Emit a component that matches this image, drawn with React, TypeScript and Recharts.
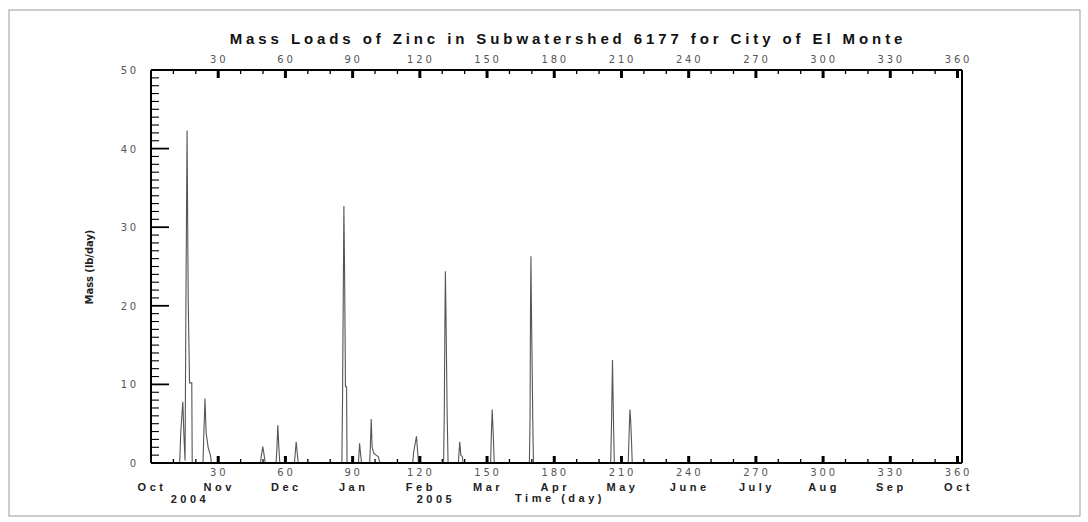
import React from 'react';
import { LineChart, Line, XAxis, YAxis } from 'recharts';

// spike outline points: day of water year (Oct 1 = 0) and mass in lb/day
const days = [
  0, 12.8, 13.3, 14.2, 14.7, 15.2, 15.6, 16.1, 16.6, 17.2, 18.2, 18.4,
  23.2, 23.6, 24.1, 24.6, 25.5, 26.5, 27,
  48.8, 49.4, 49.9, 50.5, 51,
  55.8, 56.2, 56.6, 57.1, 57.5,
  64, 64.4, 64.8, 65.3, 65.7,
  85.2, 85.5, 85.9, 86.1, 86.4, 86.8, 87.3, 87.5,
  92.6, 93.1, 93.6, 94,
  97.6, 97.9, 98.3, 98.7, 99.5, 100.5, 101.5, 102.2,
  116.8, 117.3, 118.5, 119, 119.4,
  130.6, 130.9, 131.2, 131.4, 131.7, 132.2, 132.6,
  137.2, 137.8, 138.3, 139, 139.3,
  151.6, 151.9, 152.3, 152.8, 153.2,
  168.9, 169.2, 169.4, 169.6, 169.8, 170.1, 170.4, 170.7,
  205.2, 205.6, 206, 206.4, 206.8,
  213, 213.3, 213.6, 213.8, 214.1, 214.5, 214.8,
  362,
];
const mass = [
  0, 0, 4, 7.8, 3.5, 0.3, 21, 42.3, 21, 10.2, 10.2, 0,
  0, 3.9, 8.2, 3.9, 2, 1, 0,
  0, 1.2, 2.1, 1, 0,
  0, 1.8, 4.8, 1.8, 0,
  0, 1.3, 2.7, 1.2, 0,
  0, 8.3, 24.6, 32.7, 24.6, 9.7, 9.7, 0,
  0, 2.5, 1, 0,
  0, 2, 5.6, 2, 1.2, 1, 0.8, 0,
  0, 1.5, 3.4, 1.5, 0,
  0, 6.1, 18.2, 24.4, 18.2, 6.1, 0,
  0, 2.7, 1, 0.8, 0,
  0, 3.4, 6.8, 3.4, 0,
  0, 5.8, 19.8, 26.3, 19.8, 12.9, 5.8, 0,
  0, 5.8, 13.1, 5.8, 0,
  0, 2.7, 5.4, 6.8, 5.4, 2.7, 0,
  0,
];

const xTicks = [
  0, 10, 20, 30, 40, 50, 60, 70, 80, 90, 100, 110, 120, 130, 140, 150, 160, 170, 180,
  190, 200, 210, 220, 230, 240, 250, 260, 270, 280, 290, 300, 310, 320, 330, 340, 350, 360,
];
const yTicks = Array.from({ length: 51 }, (_, i) => i);
const months = ['Oct', 'Nov', 'Dec', 'Jan', 'Feb', 'Mar', 'Apr', 'May', 'June', 'July', 'Aug', 'Sep', 'Oct'];

const data = days.map((d, i) => ({ day: d, mass: mass[i] }));

const W = 1088;
const H = 522;
const numFont = { fontFamily: 'DejaVu Sans, sans-serif', fontSize: 10, letterSpacing: 2.8, fill: '#555' };
const boldFont = { fontFamily: 'Liberation Sans, Arial, sans-serif', fontSize: 11, fontWeight: 700, letterSpacing: 3.5, fill: '#222' };

const BottomTick = (props: any) => {
  const { x, y, payload } = props;
  const v = payload.value;
  const major = v % 30 === 0;
  return (
    <g>
      {v > 0 && (
        <line x1={x} x2={x} y1={y} y2={y - (major ? 7 : 4)} stroke="#000" strokeWidth={major ? 3 : 1.3} />
      )}
      {major && v > 0 && (
        <text x={x + 1} y={y + 13} textAnchor="middle" {...numFont}>{v}</text>
      )}
      {major && (
        <text x={x + 1} y={y + 28} textAnchor="middle" {...boldFont}>{months[v / 30]}</text>
      )}
    </g>
  );
};

const TopTick = (props: any) => {
  const { x, y, payload } = props;
  const v = payload.value;
  const major = v % 30 === 0;
  return (
    <g>
      {v > 0 && (
        <line x1={x} x2={x} y1={y} y2={y + (major ? 8 : 4)} stroke="#000" strokeWidth={major ? 3 : 1.3} />
      )}
      {major && v > 0 && (
        <text x={x + 1} y={y - 7} textAnchor="middle" {...numFont}>{v}</text>
      )}
    </g>
  );
};

const LeftTick = (props: any) => {
  const { x, y, payload } = props;
  const v = payload.value;
  const major = v % 10 === 0;
  return (
    <g>
      <line x1={x} x2={x + (major ? 18 : 8)} y1={y} y2={y} stroke="#000" strokeWidth={major ? 1.8 : 1.1} />
      {major && (
        <text x={x - 12} y={y + 4} textAnchor="end" {...numFont}>{v}</text>
      )}
    </g>
  );
};

const RightTick = (props: any) => {
  const { x, y, payload } = props;
  const v = payload.value;
  const major = v % 10 === 0;
  return (
    <g>
      <line x1={x} x2={x - (major ? 18 : 8)} y1={y} y2={y} stroke="#000" strokeWidth={major ? 1.8 : 1.1} />
      {major && (
        <text x={x + 14} y={y + 4} textAnchor="start" {...numFont}>{v}</text>
      )}
    </g>
  );
};

export default function App() {
  return (
    <div style={{ position: 'absolute', left: 0, top: 0, width: W, height: H, background: '#fff' }}>
      <LineChart width={W} height={H} data={data} margin={{ top: 0, right: 0, bottom: 0, left: 0 }}>
        <XAxis
          xAxisId="b"
          dataKey="day"
          type="number"
          domain={[0, 362]}
          ticks={xTicks}
          interval={0}
          height={59}
          tickSize={0}
          tickMargin={0}
          tickLine={false}
          axisLine={{ stroke: '#000', strokeWidth: 2 }}
          tick={<BottomTick />}
        />
        <XAxis
          xAxisId="t"
          dataKey="day"
          type="number"
          orientation="top"
          domain={[0, 362]}
          ticks={xTicks}
          interval={0}
          height={70}
          tickSize={0}
          tickMargin={0}
          tickLine={false}
          axisLine={{ stroke: '#000', strokeWidth: 2 }}
          tick={<TopTick />}
        />
        <YAxis
          yAxisId="l"
          type="number"
          domain={[0, 50]}
          ticks={yTicks}
          interval={0}
          width={151}
          tickSize={0}
          tickMargin={0}
          tickLine={false}
          axisLine={{ stroke: '#000', strokeWidth: 2 }}
          tick={<LeftTick />}
        />
        <YAxis
          yAxisId="r"
          orientation="right"
          type="number"
          domain={[0, 50]}
          ticks={yTicks}
          interval={0}
          width={126}
          tickSize={0}
          tickMargin={0}
          tickLine={false}
          axisLine={{ stroke: '#000', strokeWidth: 2 }}
          tick={<RightTick />}
        />
        <Line
          xAxisId="b"
          yAxisId="l"
          type="linear"
          dataKey="mass"
          stroke="#555"
          strokeWidth={1.1}
          dot={false}
          isAnimationActive={false}
        />
      </LineChart>
      <svg width={W} height={H} style={{ position: 'absolute', left: 0, top: 0, pointerEvents: 'none' }}>
        <rect x={9} y={10} width={1071} height={506} fill="none" stroke="#999" strokeWidth={1} />
        <text
          x={568}
          y={44}
          textAnchor="middle"
          style={{ fontFamily: 'Liberation Sans, Arial, sans-serif', fontSize: 15, fontWeight: 700, letterSpacing: 3.9 }}
          fill="#111"
        >
          Mass Loads of Zinc in Subwatershed 6177 for City of El Monte
        </text>
        <text
          x={93}
          y={267}
          textAnchor="middle"
          transform="rotate(-90 93 267)"
          style={{ fontFamily: 'Liberation Sans Narrow, DejaVu Sans Condensed, sans-serif', fontSize: 11, fontWeight: 700 }}
          fill="#222"
        >
          Mass (lb/day)
        </text>
        <text x={190} y={503} textAnchor="middle" style={boldFont as any} fill="#222">2004</text>
        <text x={436} y={503} textAnchor="middle" style={boldFont as any} fill="#222">2005</text>
        <text x={560} y={502} textAnchor="middle" style={boldFont as any} fill="#222">Time (day)</text>
      </svg>
    </div>
  );
}
